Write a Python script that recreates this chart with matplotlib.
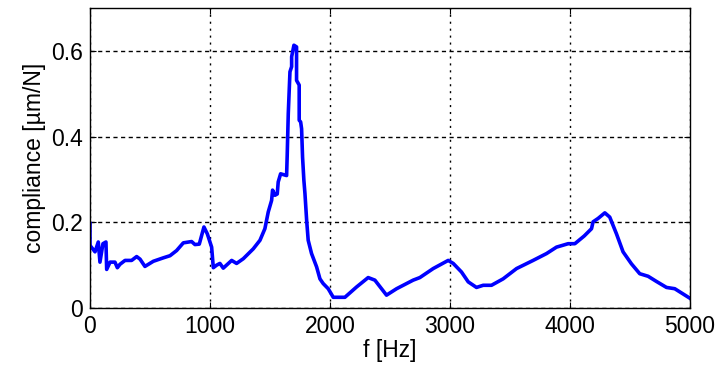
import numpy as np
import matplotlib
matplotlib.use("Agg")
import matplotlib.pyplot as plt

# measured compliance of the spindle (frequency response magnitude)
freq = [0, 0, 42, 69, 83, 108, 133, 139, 167, 208, 228, 250, 292, 347, 389, 417,
        458, 528, 611, 667, 722, 778, 847, 875, 911, 950, 978, 1014, 1028, 1056,
        1083, 1111, 1181, 1222, 1278, 1361, 1417, 1458, 1486, 1514, 1522, 1542,
        1561, 1569, 1589, 1639, 1644, 1653, 1667, 1681, 1681, 1700, 1722, 1722,
        1744, 1744, 1756, 1764, 1772, 1783, 1792, 1806, 1819, 1847, 1889, 1917,
        1944, 1986, 2028, 2125, 2222, 2319, 2375, 2472, 2556, 2694, 2750, 2861,
        2986, 3028, 3097, 3153, 3222, 3278, 3347, 3444, 3556, 3694, 3806, 3889,
        3986, 4042, 4120, 4181, 4194, 4236, 4292, 4333, 4389, 4444, 4514, 4583,
        4653, 4722, 4806, 4875, 5000]
compl = [0.197, 0.146, 0.131, 0.154, 0.107, 0.150, 0.154, 0.090, 0.107, 0.107,
         0.094, 0.102, 0.111, 0.111, 0.120, 0.114, 0.097, 0.109, 0.117, 0.122,
         0.134, 0.152, 0.155, 0.148, 0.149, 0.189, 0.173, 0.142, 0.094, 0.100,
         0.104, 0.093, 0.111, 0.104, 0.115, 0.138, 0.158, 0.185, 0.224, 0.251,
         0.275, 0.263, 0.266, 0.294, 0.313, 0.309, 0.356, 0.454, 0.551, 0.563,
         0.586, 0.613, 0.609, 0.531, 0.520, 0.438, 0.434, 0.418, 0.352, 0.298,
         0.267, 0.205, 0.158, 0.127, 0.096, 0.068, 0.057, 0.045, 0.025, 0.025,
         0.049, 0.071, 0.065, 0.030, 0.045, 0.065, 0.071, 0.092, 0.111, 0.104,
         0.084, 0.061, 0.048, 0.053, 0.053, 0.068, 0.092, 0.111, 0.127, 0.142,
         0.150, 0.150, 0.168, 0.185, 0.201, 0.209, 0.222, 0.212, 0.173, 0.131,
         0.103, 0.080, 0.074, 0.062, 0.048, 0.045, 0.023]

xticks = [0, 1000, 2000, 3000, 4000, 5000]
yticks = [0, 0.2, 0.4, 0.6]

plt.rcParams['font.family'] = ['Liberation Sans', 'DejaVu Sans']
plt.rcParams['font.size'] = 16.5

fig = plt.figure(figsize=(7.2, 3.77), dpi=100)
ax = fig.add_axes([0.125, 0.183, 0.833, 0.796])

ax.plot(freq, compl, color=(0, 0, 1), linewidth=2.6, solid_joinstyle='round')

ax.set_xlim(0, 5000)
ax.set_ylim(0, 0.7)
ax.set_xticks(xticks)
ax.set_yticks(yticks)
ax.set_yticklabels(['0', '0.2', '0.4', '0.6'])

# matlab-like dotted grid
ax.xaxis.grid(True, color='black', linestyle=(0, (1.5, 3.5)), linewidth=1.0)
ax.yaxis.grid(True, color='black', linestyle=(0, (3, 2.5)), linewidth=1.0)
ax.set_axisbelow(True)

ax.tick_params(direction='in', top=True, right=True, length=4, width=0.8, pad=5)
for sp in ax.spines.values():
    sp.set_linewidth(1.0)

ax.set_xlabel('f [Hz]', labelpad=1)
ax.set_ylabel('compliance [µm/N]', labelpad=4)

fig.savefig('out.png', dpi=100)
